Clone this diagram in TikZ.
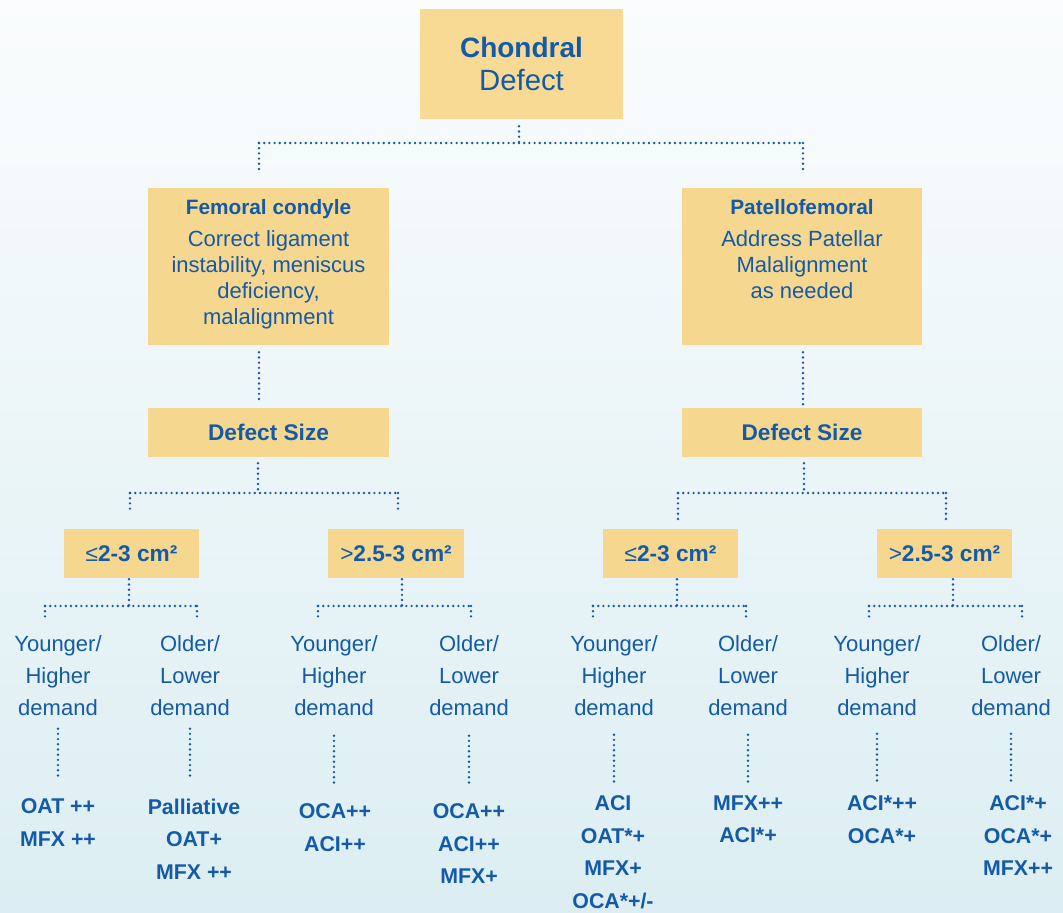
\documentclass[tikz,border=0pt]{standalone}
\usepackage{fontspec}
\setmainfont{Liberation Sans}
\definecolor{tblue}{RGB}{20,90,166}
\definecolor{boxc}{RGB}{245,215,144}
\definecolor{boxtop}{RGB}{248,218,148}
\definecolor{bgtop}{RGB}{250,252,253}
\definecolor{bgbot}{RGB}{220,238,243}
\tikzset{
  conn/.style={draw=tblue, line width=2pt, line cap=round, dash pattern=on 0pt off 3.9pt},
  box/.style={fill=boxc, draw=none, inner sep=0pt, text=tblue},
  boxtxt/.style={text=tblue, align=center, inner sep=0pt, anchor=north, font=\fontsize{16.5}{19.5}\selectfont},
  lbl/.style={text=tblue, align=center, inner sep=0pt, anchor=north, font=\fontsize{16.5}{24}\selectfont},
  res/.style={text=tblue, align=center, inner sep=0pt, anchor=north, font=\fontsize{16}{24.4}\selectfont\bfseries},
  sizebox/.style={box, minimum width=101.5pt, minimum height=36.75pt, font=\fontsize{17}{20}\selectfont\bfseries},
}
\begin{document}
\begin{tikzpicture}[x=0.75pt,y=-0.75pt]
\shade[top color=bgtop, bottom color=bgbot] (0,0) rectangle (1063,913);
\useasboundingbox (0,0) rectangle (1063,913);

% boxes
\node[box, fill=boxtop, minimum width=152.25pt, minimum height=82.5pt, align=center,
      font=\fontsize{21}{24.75}\selectfont] (top) at (521.5,64)
      {\textbf{Chondral}\\{\fontsize{22}{24.75}\selectfont Defect}};
\node[box, minimum width=180.75pt, minimum height=117.75pt] (fem) at (268.5,266.5) {};
\node[box, minimum width=180pt, minimum height=117.75pt] (pat) at (802,266.5) {};
\node[boxtxt] (femt) at (268.5,199)
  {{\fontsize{15.6}{19.5}\selectfont\bfseries Femoral condyle}\\[4.6pt]Correct ligament\\instability, meniscus\\deficiency,\\malalignment};
\node[boxtxt] (patt) at (802,199)
  {{\fontsize{15.6}{19.5}\selectfont\bfseries Patellofemoral}\\[4.6pt]Address Patellar\\Malalignment\\as needed};
\node[box, minimum width=180.75pt, minimum height=36.75pt, font=\fontsize{17}{20}\selectfont\bfseries] (dsl) at (268.5,432.5) {Defect Size};
\node[box, minimum width=180pt, minimum height=36.75pt, font=\fontsize{17}{20}\selectfont\bfseries] (dsr) at (802,432.5) {Defect Size};

\node[sizebox] (s1) at (131.5,553.5) {{\mdseries ≤}2-3 cm²};
\node[sizebox] (s2) at (396,553.5) {{\mdseries >}2.5-3 cm²};
\node[sizebox] (s3) at (670.5,553.5) {{\mdseries ≤}2-3 cm²};
\node[sizebox] (s4) at (944.5,553.5) {{\mdseries >}2.5-3 cm²};

% demand labels
\node[lbl] (y1a) at (58,635) {Younger/\\Higher\\demand};
\node[lbl] (y1b) at (190,635) {Older/\\Lower\\demand};
\node[lbl] (y2a) at (334,635) {Younger/\\Higher\\demand};
\node[lbl] (y2b) at (469,635) {Older/\\Lower\\demand};
\node[lbl] (y3a) at (614,635) {Younger/\\Higher\\demand};
\node[lbl] (y3b) at (748,635) {Older/\\Lower\\demand};
\node[lbl] (y4a) at (877,635) {Younger/\\Higher\\demand};
\node[lbl] (y4b) at (1011,635) {Older/\\Lower\\demand};

% results
\node[res] (r1a) at (58,798.5) {OAT ++\\MFX ++};
\node[res] (r1b) at (194,798.5) {Palliative\\OAT+\\MFX ++};
\node[res] (r2a) at (335,803.5) {OCA++\\ACI++};
\node[res] (r2b) at (469,803.5) {OCA++\\ACI++\\MFX+};
\node[res] (r3a) at (613,795.5) {ACI\\OAT*+\\MFX+\\OCA*+/-};
\node[res] (r3b) at (748,795.5) {MFX++\\ACI*+};
\node[res] (r4a) at (882,795.5) {ACI*++\\OCA*+};
\node[res] (r4b) at (1018,795.5) {ACI*+\\OCA*+\\MFX++};

% junction coordinates
\coordinate (j0) at (519,143);
\coordinate (j0L) at (259,143);
\coordinate (j0R) at (803,143);
\coordinate (j1) at (258,493);
\coordinate (j1L) at (130,493);
\coordinate (j1R) at (398,493);
\coordinate (j2) at (804,493);
\coordinate (j2L) at (678,493);
\coordinate (j2R) at (946,493);
\coordinate (j3) at (129,606);
\coordinate (j3L) at (45,606);
\coordinate (j3R) at (197,606);
\coordinate (j4) at (402,606);
\coordinate (j4L) at (318,606);
\coordinate (j4R) at (471,606);
\coordinate (j5) at (677,606);
\coordinate (j5L) at (593,606);
\coordinate (j5R) at (746,606);
\coordinate (j6) at (953,606);
\coordinate (j6L) at (869,606);
\coordinate (j6R) at (1022,606);

% top level
\draw[conn] ([yshift=-5.25pt]top.south -| j0) -- (j0);
\draw[conn] (j0L) -- (j0R);
\draw[conn] (j0L) -- ([yshift=13.5pt]fem.north -| j0L);
\draw[conn] (j0R) -- ([yshift=13.5pt]pat.north -| j0R);
\draw[conn] ([yshift=-5.25pt]fem.south -| j0L) -- ([yshift=5.25pt]dsl.north -| j0L);
\draw[conn] ([yshift=-5.25pt]pat.south -| j0R) -- (dsr.north -| j0R);

% defect size splits
\draw[conn] ([yshift=-4.5pt]dsl.south -| j1) -- (j1);
\draw[conn] (j1L) -- (j1R);
\draw[conn] (j1L) -- ([yshift=11.25pt]s1.north -| j1L);
\draw[conn] (j1R) -- ([yshift=11.25pt]s2.north -| j1R);
\draw[conn] ([yshift=-4.5pt]dsr.south -| j2) -- (j2);
\draw[conn] (j2L) -- (j2R);
\draw[conn] (j2L) -- ([yshift=6pt]s3.north -| j2L);
\draw[conn] (j2R) -- ([yshift=6pt]s4.north -| j2R);

% size splits
\draw[conn] ([yshift=-0.75pt]s1.south -| j3) -- (j3);
\draw[conn] (j3L) -- (j3R);
\draw[conn] (j3L) -- ([yshift=12.75pt]y1a.north -| j3L);
\draw[conn] (j3R) -- ([yshift=12.75pt]y1b.north -| j3R);
\draw[conn] ([yshift=-0.75pt]s2.south -| j4) -- (j4);
\draw[conn] (j4L) -- (j4R);
\draw[conn] (j4L) -- ([yshift=12pt]y2a.north -| j4L);
\draw[conn] (j4R) -- ([yshift=12pt]y2b.north -| j4R);
\draw[conn] ([yshift=-0.75pt]s3.south -| j5) -- (j5);
\draw[conn] (j5L) -- (j5R);
\draw[conn] (j5L) -- ([yshift=12pt]y3a.north -| j5L);
\draw[conn] (j5R) -- ([yshift=12pt]y3b.north -| j5R);
\draw[conn] ([yshift=-0.75pt]s4.south -| j6) -- (j6);
\draw[conn] (j6L) -- (j6R);
\draw[conn] (j6L) -- ([yshift=12.75pt]y4a.north -| j6L);
\draw[conn] (j6R) -- ([yshift=12.75pt]y4b.north -| j6R);

% labels to results
\draw[conn, shorten <=9.75pt, shorten >=14.6pt] (y1a.south) -- (y1a.south |- r1a.north);
\draw[conn, shorten <=9.75pt, shorten >=14.6pt] (y1b.south) -- (y1b.south |- r1b.north);
\draw[conn, shorten <=15pt, shorten >=13.1pt] (y2a.south) -- (y2a.south |- r2a.north);
\draw[conn, shorten <=15pt, shorten >=13.1pt] (y2b.south) -- (y2b.south |- r2b.north);
\draw[conn, shorten <=14.25pt, shorten >=7.9pt] (y3a.south) -- (y3a.south |- r3a.north);
\draw[conn, shorten <=14.25pt, shorten >=7.9pt] (y3b.south) -- (y3b.south |- r3b.north);
\draw[conn, shorten <=13.5pt, shorten >=7.9pt] (y4a.south) -- (y4a.south |- r4a.north);
\draw[conn, shorten <=13.5pt, shorten >=7.9pt] (y4b.south) -- (y4b.south |- r4b.north);
\end{tikzpicture}
\end{document}
